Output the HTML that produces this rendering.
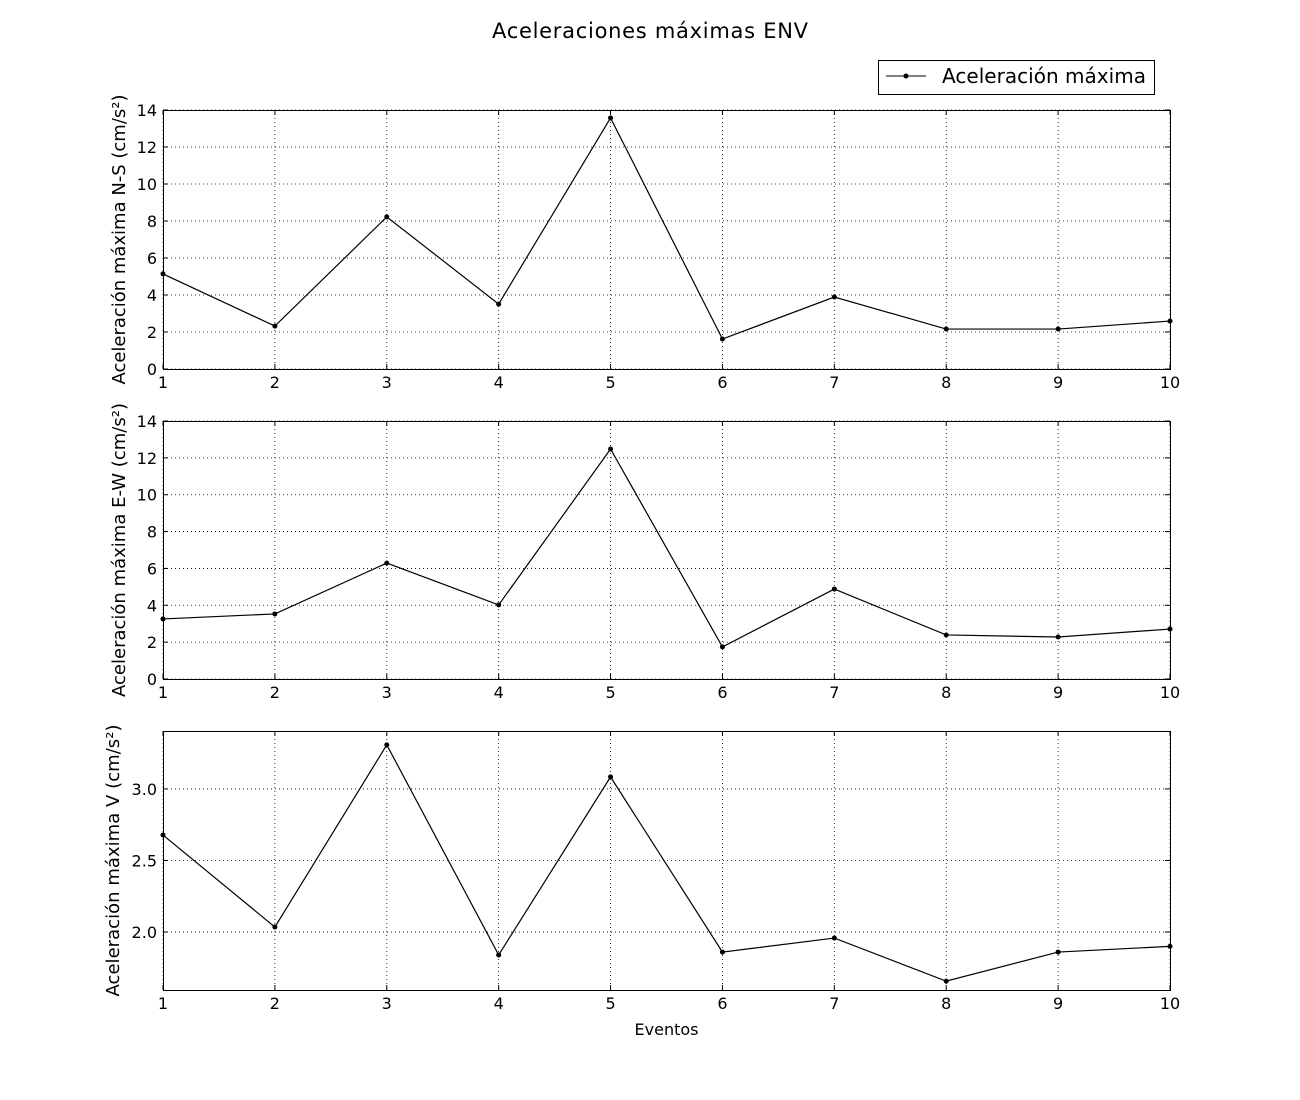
<!DOCTYPE html>
<html><head><meta charset="utf-8"><style>
body{margin:0;background:#fff;}
svg{display:block;font-family:"DejaVu Sans","Liberation Sans",sans-serif;}
</style></head><body>
<svg id="chart" width="1300" height="1100" viewBox="0 0 1300 1100">
<rect width="1300" height="1100" fill="#fff"/>
<text x="650" y="38" text-anchor="middle" font-size="21" textLength="316">Aceleraciones máximas ENV</text>
<g>
<rect x="878.5" y="60.5" width="276" height="34" fill="#fff" stroke="#000"/>
<line x1="886" y1="76" x2="926" y2="76" stroke="#000"/>
<circle cx="906" cy="76" r="2.5" fill="#000"/>
<text x="942" y="83" font-size="20" textLength="204">Aceleración máxima</text>
</g>
</svg>
<script>
const categories=[1,2,3,4,5,6,7,8,9,10];
const nsValues=[5.14,2.32,8.22,3.51,13.57,1.62,3.89,2.16,2.16,2.59];
const ewValues=[3.26,3.53,6.29,4.02,12.48,1.74,4.88,2.39,2.28,2.71];
const vValues=[2.678,2.035,3.308,1.84,3.084,1.86,1.958,1.657,1.86,1.90];
const nsTicks=[0,2,4,6,8,10,12,14];
const ewTicks=[0,2,4,6,8,10,12,14];
const vTicks=[2.0,2.5,3.0];
const svg=document.getElementById('chart');
const NS='http://www.w3.org/2000/svg';
function mk(tag,attrs,parent){const e=document.createElementNS(NS,tag);for(const k in attrs)e.setAttribute(k,attrs[k]);(parent||svg).appendChild(e);return e;}
const X0=163,X1=1170;
function panel(name,top,bot,ymin,ymax,ticks,vals,label,fmt,showX,lx,llen){
  const g=mk('g',{});
  
  
  const xs=v=>X0+(v-1)/(9)*(X1-X0);
  const ys=v=>bot-(v-ymin)/(ymax-ymin)*(bot-top);
  categories.forEach(c=>{
    const x=xs(c);
    const l=mk('line',{x1:x,x2:x,y1:top,y2:bot,stroke:'#000','stroke-dasharray':'1,3','stroke-width':0.8},g);
    
    
    mk('line',{x1:x,x2:x,y1:bot,y2:bot-5,stroke:'#000'},g);
    mk('line',{x1:x,x2:x,y1:top,y2:top+5,stroke:'#000'},g);
    const t=mk('text',{x:x,y:bot+19,'text-anchor':'middle','font-size':16},g);
    t.textContent=c;
    
    
  });
  ticks.forEach(v=>{
    const y=ys(v);
    const l=mk('line',{x1:X0,x2:X1,y1:y,y2:y,stroke:'#000','stroke-dasharray':'1,3','stroke-width':0.8},g);
    
    
    mk('line',{x1:X0,x2:X0+5,y1:y,y2:y,stroke:'#000'},g);
    mk('line',{x1:X1,x2:X1-5,y1:y,y2:y,stroke:'#000'},g);
    const t=mk('text',{x:X0-6,y:y+6,'text-anchor':'end','font-size':16},g);
    t.textContent=fmt(v);
    
    
  });
  const pts=vals.map((v,i)=>xs(categories[i])+','+ys(v)).join(' ');
  const pl=mk('polyline',{points:pts,fill:'none',stroke:'#000','stroke-width':1.2},g);
  
  
  vals.forEach((v,i)=>{
    const c=mk('circle',{cx:xs(categories[i]),cy:ys(v),r:2.5,fill:'#000'},g);
    
    
  });
  const fr=mk('rect',{x:X0+0.5,y:top+0.5,width:X1-X0,height:bot-top,fill:'none',stroke:'#000'},g);
  
  
  const cy=(top+bot)/2;
  const yl=mk('text',{x:0,y:0,transform:`translate(${lx},${cy}) rotate(-90)`,'text-anchor':'middle','font-size':18,textLength:llen},g);
  yl.textContent=label;
  
  
  if(showX){
    const xl=mk('text',{x:(X0+X1)/2,y:bot+45,'text-anchor':'middle','font-size':16},g);
    xl.textContent='Eventos';
    
    
  }
}
panel('ns',110,369,0,14,nsTicks,nsValues,'Aceleración máxima N-S (cm/s²)',v=>v,false,125,290);
panel('ew',421,679,0,14,ewTicks,ewValues,'Aceleración máxima E-W (cm/s²)',v=>v,false,125,294);
panel('v',731,990,1.595,3.405,vTicks,vValues,'Aceleración máxima V (cm/s²)',v=>v.toFixed(1),true,119,272);
</script>
</body></html>
